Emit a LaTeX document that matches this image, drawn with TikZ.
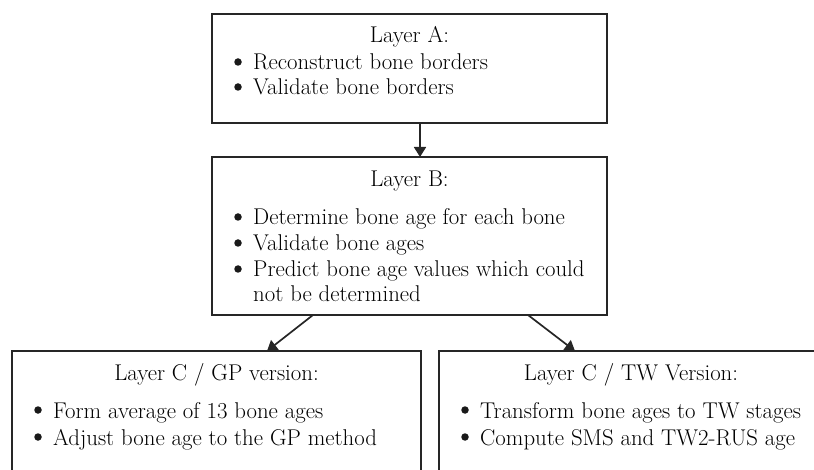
\documentclass[tikz,border=0pt]{standalone}
\usetikzlibrary{arrows.meta,calc}
\begin{document}
\begin{tikzpicture}[x=1pt,y=-1pt,
  box/.style={draw=black!85, line width=1.7pt, rectangle, inner sep=0pt, outer sep=0pt, anchor=north west},
  hdr/.style={anchor=base, inner sep=0pt, font=\fontsize{22.8}{26}\selectfont},
  txt/.style={anchor=base west, inner sep=0pt, font=\fontsize{22.8}{26}\selectfont},
  dot/.style={circle, fill=black!90, inner sep=0pt, minimum size=7.5pt},
  arr/.style={line width=1.7pt, draw=black!85, -{Triangle[length=10pt,width=12pt]}}]
\useasboundingbox (0,0) rectangle (814,470);
\clip (0,0) rectangle (814,470);
% boxes
\node[box, minimum width=395pt, minimum height=109pt] (A) at (212,14) {};
\node[box, minimum width=395pt, minimum height=158pt] (B) at (212,157) {};
\node[box, minimum width=409pt, minimum height=160pt] (CL) at (12,351) {};
\node[box, minimum width=387pt, minimum height=160pt] (CR) at (439,351) {};
% connectors
\draw[arr] ($(A.south west)+(208,0)$) -- ($(B.north west)+(208,0)$);
\draw[arr] ($(B.south west)+(101,0)$) -- ($(CL.north west)+(255,0)$);
\draw[arr] ($(B.south west)+(316,0)$) -- ($(CR.north west)+(136,0)$);
% Layer A
\node[hdr] (ah) at (409.5,43) {Layer A:};
\node[dot] (ab1) at (238,62) {};
\node[txt] (at1) at (253,70) {Reconstruct bone borders};
\node[dot] (ab2) at (238,87) {};
\node[txt] (at2) at (253,95) {Validate bone borders};
% Layer B
\node[hdr] (bh) at (409.5,187) {Layer B:};
\node[dot] (bb1) at (238,217) {};
\node[txt] (bt1) at (253,225) {Determine bone age for each bone};
\node[dot] (bb2) at (238,243) {};
\node[txt] (bt2) at (253,251) {Validate bone ages};
\node[dot] (bb3) at (238,269) {};
\node[txt] (bt3) at (253,277) {Predict bone age values which could};
\node[txt] (bt4) at (253,302) {not be determined};
% Layer C GP
\node[hdr] (ch) at (216.5,380) {Layer C / GP version:};
\node[dot] (cb1) at (38,410) {};
\node[txt] (ct1) at (53,418) {Form average of 13 bone ages};
\node[dot] (cb2) at (38,437) {};
\node[txt] (ct2) at (53,445) {Adjust bone age to the GP method};
% Layer C TW
\node[hdr] (dh) at (631,380) {Layer C / TW Version:};
\node[dot] (db1) at (465,410) {};
\node[txt] (dt1) at (480,418) {Transform bone ages to TW stages};
\node[dot] (db2) at (465,437) {};
\node[txt] (dt2) at (480,445) {Compute SMS and TW2-RUS age};
\end{tikzpicture}
\end{document}
